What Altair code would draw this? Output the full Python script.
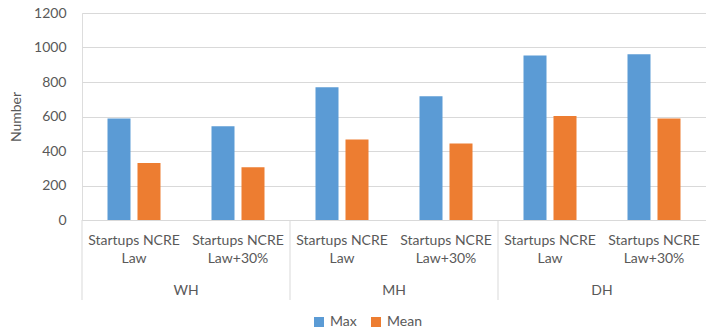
import altair as alt
import pandas as pd

groups = ["WH", "MH", "DH"]
scenarios = ["Startups NCRE Law", "Startups NCRE Law+30%"]
series = ["Max", "Mean"]
max_vals = [588, 543, 770, 717, 954, 961]
mean_vals = [330, 306, 466, 443, 603, 588]
y_ticks = [0, 200, 400, 600, 800, 1000, 1200]

keys = [f"{g}|{s}" for g in groups for s in scenarios]
rows = []
for k, mx, mn in zip(keys, max_vals, mean_vals):
    rows.append({"key": k, "series": "Max", "value": mx})
    rows.append({"key": k, "series": "Mean", "value": mn})
df = pd.DataFrame(rows)
gdf = pd.DataFrame({"key": [f"{g}|{scenarios[0]}" for g in groups], "group": groups})

W, H = 624, 207
FONT = "Lato"
TXT = "#595959"
GRID = "#d9d9d9"
FS = 14

xscale = alt.Scale(domain=keys, paddingInner=0, paddingOuter=0)

bars = alt.Chart(df).mark_bar().encode(
    x=alt.X("key:N", scale=xscale, sort=keys, title=None,
            axis=alt.Axis(labelAngle=0, ticks=False, domainColor=GRID,
                          labelExpr="['Startups NCRE', replace(split(datum.label, '|')[1], 'Startups NCRE ', '')]",
                          labelFont=FONT, labelFontSize=FS, labelColor=TXT,
                          labelPadding=13, labelLineHeight=18, labelBaseline="top")),
    xOffset=alt.XOffset("series:N", sort=series,
                        scale=alt.Scale(paddingInner=0.233, paddingOuter=0.85)),
    y=alt.Y("value:Q", scale=alt.Scale(domain=[0, 1200]), title="Number",
            axis=alt.Axis(values=y_ticks, format="d", ticks=False, domain=False, gridColor=GRID,
                          labelFont=FONT, labelFontSize=FS, labelColor=TXT, labelPadding=16,
                          titleFont=FONT, titleFontSize=FS, titleColor=TXT,
                          titleFontWeight="normal", titlePadding=10)),
    color=alt.Color("series:N", sort=series,
                    scale=alt.Scale(domain=series, range=["#5B9BD5", "#ED7D31"]),
                    legend=alt.Legend(title=None, orient="none", direction="horizontal",
                                      legendX=230, legendY=302, symbolType="square",
                                      symbolSize=100, symbolStrokeWidth=0,
                                      labelFont=FONT, labelFontSize=FS, labelColor=TXT,
                                      columnPadding=12, labelOffset=4)),
)

seps = alt.Chart(gdf).mark_rule(color=GRID, strokeWidth=1).encode(
    x=alt.X("key:N", scale=xscale, sort=keys, bandPosition=0),
    y=alt.value(H),
    y2=alt.value(H + 80),
)

glabels = alt.Chart(gdf).mark_text(font=FONT, fontSize=FS, color=TXT, baseline="middle").encode(
    x=alt.X("key:N", scale=xscale, sort=keys, bandPosition=1),
    y=alt.value(H + 71),
    text="group:N",
)

chart = alt.layer(bars, seps, glabels).properties(
    width=W, height=H,
    autosize=alt.AutoSizeParams(type="none"),
    padding={"left": 82, "top": 13, "right": 0, "bottom": 113},
).configure_view(stroke=None).configure(background="white")

chart.save("out.html", embed_options={"renderer": "svg", "actions": False})
